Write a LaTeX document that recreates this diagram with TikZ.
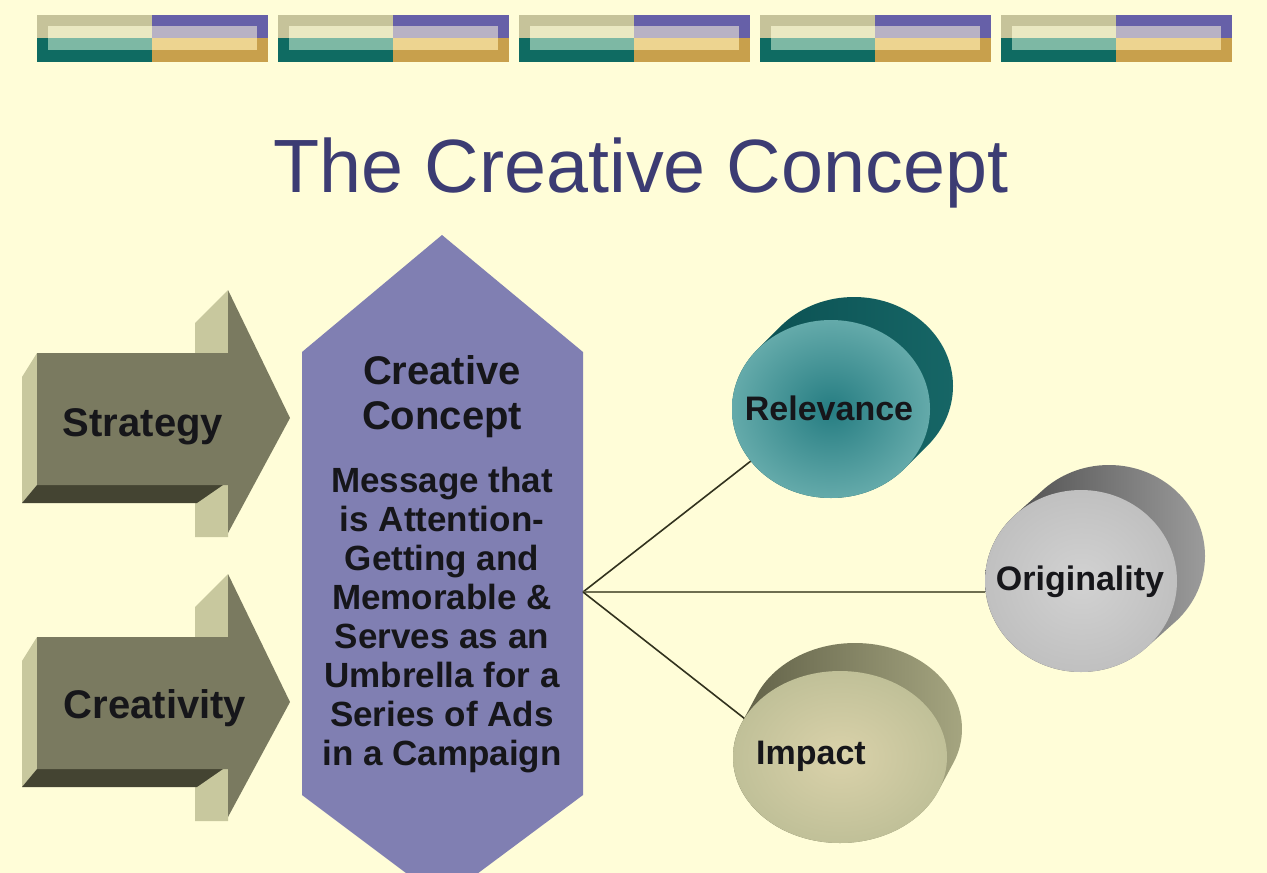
\documentclass[tikz,border=0pt]{standalone}
\usepackage{fontspec}
\setmainfont{Liberation Sans}
\usetikzlibrary{shapes.geometric}
\definecolor{bg}{RGB}{255,253,216}
\definecolor{barKhaki}{RGB}{198,195,154}
\definecolor{barTeal}{RGB}{15,107,98}
\definecolor{barPurple}{RGB}{102,96,168}
\definecolor{barGold}{RGB}{200,160,76}
\definecolor{barCream}{RGB}{234,232,194}
\definecolor{barLTeal}{RGB}{125,184,164}
\definecolor{barLav}{RGB}{184,178,196}
\definecolor{barLGold}{RGB}{237,212,144}
\definecolor{titleblue}{RGB}{60,60,115}
\definecolor{arrFaceC}{RGB}{122,122,96}
\definecolor{arrLightC}{RGB}{200,200,158}
\definecolor{arrDarkC}{RGB}{68,68,50}
\definecolor{hexC}{RGB}{128,127,178}
\definecolor{inkC}{RGB}{22,22,26}
\definecolor{spokeC}{RGB}{50,50,30}
\definecolor{spokeHC}{RGB}{110,110,80}
\definecolor{relSideA}{RGB}{10,78,80}
\definecolor{relSideB}{RGB}{22,102,102}
\definecolor{relIn}{RGB}{38,125,130}
\definecolor{relOut}{RGB}{100,170,170}
\definecolor{origSideA}{RGB}{70,70,70}
\definecolor{origSideB}{RGB}{155,155,155}
\definecolor{origIn}{RGB}{210,210,210}
\definecolor{origOut}{RGB}{192,192,192}
\definecolor{impSideA}{RGB}{95,95,70}
\definecolor{impSideB}{RGB}{165,165,128}
\definecolor{impIn}{RGB}{218,210,170}
\definecolor{impOut}{RGB}{192,192,152}
\tikzset{
  blockarrow/.pic={
    \fill[arrLightC] (195,323) -- (228,290) -- (228,537) -- (195,537) -- cycle;
    \fill[arrLightC] (37,353) -- (22,377) -- (22,503) -- (37,485) -- cycle;
    \fill[arrDarkC] (37,485) -- (223,485) -- (197,503) -- (22,503) -- cycle;
    \fill[arrFaceC] (37,353) -- (228,353) -- (228,290) -- (290,418) -- (228,533) -- (228,485) -- (37,485) -- cycle;
  },
  titletext/.style={font=\fontsize{75.5}{80}\selectfont, text=titleblue, inner sep=0},
  armlabel/.style={font=\bfseries\fontsize{40}{44}\selectfont, text=inkC, inner sep=0, anchor=base},
  cchead/.style={font=\bfseries\fontsize{40}{45}\selectfont, text=inkC, align=center, inner sep=0, anchor=north},
  ccbody/.style={font=\bfseries\fontsize{35}{39}\selectfont, text=inkC, align=center, inner sep=0, anchor=north},
  cyllabel/.style={font=\bfseries\fontsize{34}{38}\selectfont, text=inkC, inner sep=0, anchor=base},
  spoke/.style={draw=spokeC, line width=1.6pt},
  spokeH/.style={draw=spokeHC, line width=2.2pt},
  relside/.style={left color=relSideA, right color=relSideB},
  relface/.style={shading=radial, inner color=relIn, outer color=relOut},
  origside/.style={left color=origSideA, right color=origSideB},
  origface/.style={shading=radial, inner color=origIn, outer color=origOut},
  impside/.style={left color=impSideA, right color=impSideB},
  impface/.style={shading=radial, inner color=impIn, outer color=impOut},
}
% #1 name, #2 cx, #3 cy, #4 rx, #5 ry, #6 dx, #7 dy
\newcommand\mycylinder[7]{%
  \shade[#1side] foreach \t in {0,0.05,...,1.01} {(#2+\t*#6, #3+\t*#7) ellipse [x radius=#4, y radius=#5]};
  \node[#1face, ellipse, inner sep=0, minimum width=2*#4, minimum height=2*#5] (#1) at (#2,#3) {};
}
\begin{document}
\begin{tikzpicture}[x=1pt,y=-1pt]
\useasboundingbox (0,0) rectangle (1267,873);
\fill[bg] (0,0) rectangle (1267,873);

% top decorative bar
\foreach \k in {0,...,4}{
  \pgfmathsetmacro\xa{37+241*\k}
  \begin{scope}[shift={(\xa,0)}]
    \fill[barKhaki] (0,15) rectangle (115,38);
    \fill[barTeal] (0,38) rectangle (115,62);
    \fill[barPurple] (115,15) rectangle (231,38);
    \fill[barGold] (115,38) rectangle (231,62);
    \fill[barCream] (11,26) rectangle (115,38);
    \fill[barLTeal] (11,38) rectangle (115,50);
    \fill[barLav] (115,26) rectangle (220,38);
    \fill[barLGold] (115,38) rectangle (220,50);
  \end{scope}
}

% title
\node[titletext, anchor=base] (title) at (641,192) {The Creative Concept};

% block arrows
\pic at (0,0) {blockarrow};
\pic at (0,284) {blockarrow};
\node[armlabel] (strategy) at (143,436) {Strategy};
\node[armlabel] (creativity) at (155,718) {Creativity};

% hexagon
\fill[hexC] (442,235) -- (583,352) -- (583,795) -- (442,900) -- (302,795) -- (302,352) -- cycle;
\node[cchead] (cctitle) at (442,355) {Creative\\Concept};
\node[ccbody] (cctext) at (442,467) {Message that\\is Attention-\\Getting and\\Memorable \&\\Serves as an\\Umbrella for a\\Series of Ads\\in a Campaign};
\coordinate (hub) at (583,592);

% cylinders
\mycylinder{rel}{831}{409}{99}{89}{23}{-23}
\mycylinder{orig}{1081}{581}{96}{91}{28}{-25}
\mycylinder{imp}{840}{757}{107}{86}{15}{-28}
\node[cyllabel] (relT) at (829,420) {Relevance};
\node[cyllabel] (origT) at (1080,590) {Originality};
\node[cyllabel] (impT) at (811,764) {Impact};

% connectors
\draw[spoke] (hub) -- (rel.213);
\draw[spokeH] (hub) -- (hub -| orig.west);
\draw[spoke] (hub) -- (imp.158);
\end{tikzpicture}
\end{document}
